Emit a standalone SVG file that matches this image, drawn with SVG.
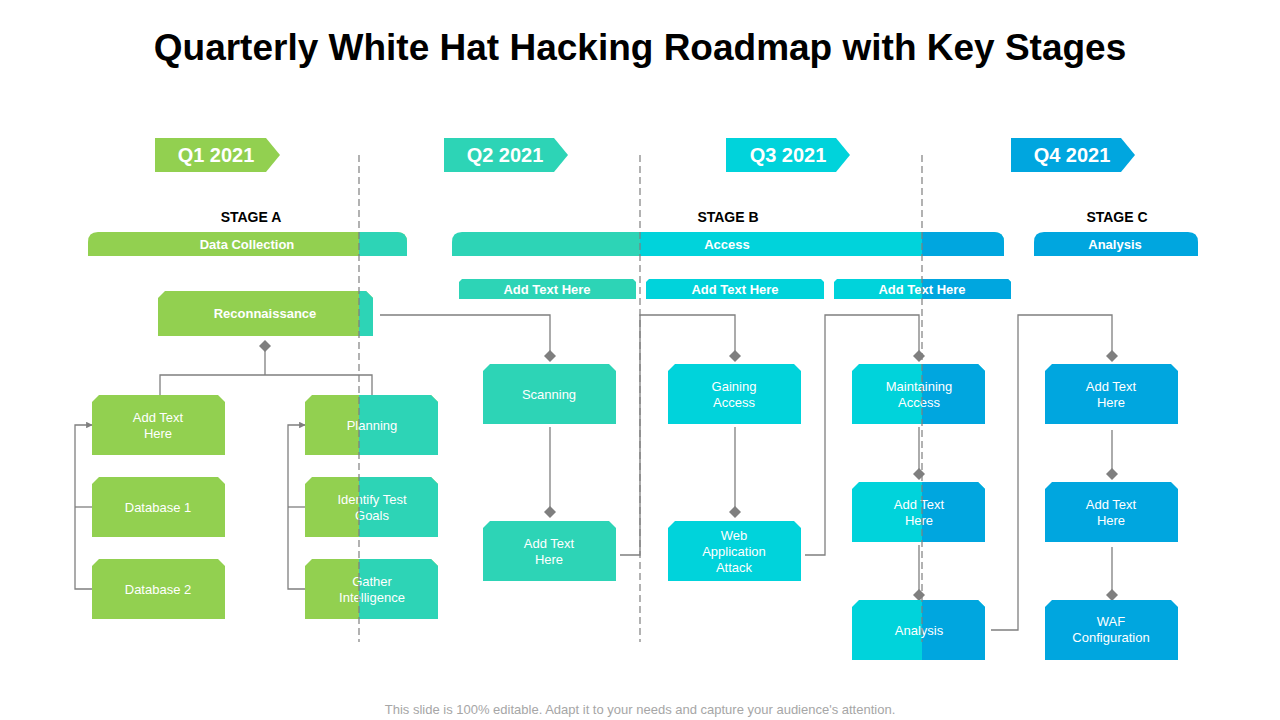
<svg xmlns="http://www.w3.org/2000/svg" width="1280" height="720" viewBox="0 0 1280 720">
<style>
.t{font-family:"Liberation Sans",Arial,sans-serif;}
.nt{font-family:"Liberation Sans",Arial,sans-serif;font-size:13px;fill:#fff;text-anchor:middle;}
.bt{font-family:"Liberation Sans",Arial,sans-serif;font-size:13px;font-weight:bold;fill:#fff;text-anchor:middle;}
.g{fill:#92D050}.tl{fill:#2DD4B6}.cy{fill:#00D3DB}.bl{fill:#00A6DF}
.ln{stroke:#7F7F7F;stroke-width:1.3;fill:none}
.dia{fill:#7F7F7F}
.dash{stroke:#7F7F7F;stroke-width:1.2;stroke-dasharray:7,4}
</style>
<defs>
<clipPath id="c2"><rect x="359" y="0" width="281" height="720"/></clipPath>
<clipPath id="c3"><rect x="640" y="0" width="282" height="720"/></clipPath>
<clipPath id="c4"><rect x="922" y="0" width="358" height="720"/></clipPath>
<marker id="ar" viewBox="0 0 10 10" refX="9" refY="5" markerWidth="5" markerHeight="5" orient="auto"><path d="M0,0 L10,5 L0,10z" fill="#7F7F7F"/></marker>
<path id="dm" d="M0,-6 L6,0 L0,6 L-6,0z"/>
</defs>
<rect width="1280" height="720" fill="#fff"/>
<text class="t" x="640" y="60" font-size="37" font-weight="bold" text-anchor="middle" fill="#000">Quarterly White Hat Hacking Roadmap with Key Stages</text>

<g id="quarters">
<g id="q1"><path class="g" d="M155,138 H266 L280,155 L266,172 H155z"/><text class="t" x="216" y="162" font-size="20" font-weight="bold" fill="#fff" text-anchor="middle">Q1 2021</text></g>
<g id="q2"><path class="tl" d="M444,138 H554 L568,155 L554,172 H444z"/><text class="t" x="505" y="162" font-size="20" font-weight="bold" fill="#fff" text-anchor="middle">Q2 2021</text></g>
<g id="q3"><path class="cy" d="M726,138 H836 L850,155 L836,172 H726z"/><text class="t" x="788" y="162" font-size="20" font-weight="bold" fill="#fff" text-anchor="middle">Q3 2021</text></g>
<g id="q4"><path class="bl" d="M1011,138 H1121 L1135,155 L1121,172 H1011z"/><text class="t" x="1072" y="162" font-size="20" font-weight="bold" fill="#fff" text-anchor="middle">Q4 2021</text></g>
</g>

<g id="stages">
<text class="t" x="251" y="222" font-size="14" font-weight="bold" text-anchor="middle">STAGE A</text>
<text class="t" x="728" y="222" font-size="14" font-weight="bold" text-anchor="middle">STAGE B</text>
<text class="t" x="1117" y="222" font-size="14" font-weight="bold" text-anchor="middle">STAGE C</text>
<g id="stageA"><path class="g" d="M88,256 V242 Q88,232 98,232 H397 Q407,232 407,242 V256z"/><path class="tl" clip-path="url(#c2)" d="M88,256 V242 Q88,232 98,232 H397 Q407,232 407,242 V256z"/><text class="bt" x="247" y="249">Data Collection</text></g>
<g id="stageB"><path class="tl" d="M452,256 V242 Q452,232 462,232 H994 Q1004,232 1004,242 V256z"/><path class="cy" clip-path="url(#c3)" d="M452,256 V242 Q452,232 462,232 H994 Q1004,232 1004,242 V256z"/><path class="bl" clip-path="url(#c4)" d="M452,256 V242 Q452,232 462,232 H994 Q1004,232 1004,242 V256z"/><text class="bt" x="727" y="249">Access</text></g>
<g id="stageC"><path class="bl" d="M1034,256 V242 Q1034,232 1044,232 H1188 Q1198,232 1198,242 V256z"/><text class="bt" x="1115" y="249">Analysis</text></g>
<g id="sb1"><path class="tl" d="M459,299 V282 L462,279 H633 L636,282 V299z"/><text class="bt" x="547" y="294" font-size="12">Add  Text Here</text></g>
<g id="sb2"><path class="cy" d="M646,299 V282 L649,279 H821 L824,282 V299z"/><text class="bt" x="735" y="294" font-size="12">Add  Text Here</text></g>
<g id="sb3"><path class="cy" d="M834,299 V282 L837,279 H1008 L1011,282 V299z"/><path class="bl" clip-path="url(#c4)" d="M834,299 V282 L837,279 H1008 L1011,282 V299z"/><text class="bt" x="922" y="294" font-size="12">Add  Text Here</text></g>
</g>

<g id="connectors">
<line class="ln" x1="265" y1="346" x2="265" y2="375"/>
<path class="ln" d="M160,395 V375 H372 V395"/>
<use href="#dm" class="dia" x="265" y="346"/>
<path class="ln" d="M92,589 H75 V425 H92" marker-end="url(#ar)"/>
<line class="ln" x1="75" y1="507" x2="92" y2="507"/>
<path class="ln" d="M305,589 H288 V425 H305" marker-end="url(#ar)"/>
<line class="ln" x1="288" y1="507" x2="305" y2="507"/>
<path class="ln" d="M380,315 H550 V356"/><use href="#dm" class="dia" x="550" y="356"/>
<path class="ln" d="M550,427 V512"/><use href="#dm" class="dia" x="550" y="512"/>
<path class="ln" d="M620,555 H640 V315 H735 V356"/><use href="#dm" class="dia" x="735" y="356"/>
<path class="ln" d="M735,427 V512"/><use href="#dm" class="dia" x="735" y="512"/>
<path class="ln" d="M805,555 H825 V315 H919 V356"/><use href="#dm" class="dia" x="919" y="356"/>
<path class="ln" d="M919,427 V474"/><use href="#dm" class="dia" x="919" y="474"/>
<path class="ln" d="M919,545 V595"/><use href="#dm" class="dia" x="919" y="595"/>
<path class="ln" d="M991,630 H1018 V315 H1112 V356"/><use href="#dm" class="dia" x="1112" y="356"/>
<path class="ln" d="M1112,430 V474"/><use href="#dm" class="dia" x="1112" y="474"/>
<path class="ln" d="M1112,547 V595"/><use href="#dm" class="dia" x="1112" y="595"/>
</g>

<g id="nodes">
<g id="recon"><path class="g" d="M158,336 V298 L165,291 H366 L373,298 V336z"/><path class="tl" clip-path="url(#c2)" d="M158,336 V298 L165,291 H366 L373,298 V336z"/><text class="bt" x="265" y="318">Reconnaissance</text></g>
<g id="n1"><path class="g" d="M92,455 V402 L99,395 H218 L225,402 V455z"/><text class="nt" x="158" y="422">Add Text</text><text class="nt" x="158" y="438">Here</text></g>
<g id="n2"><path class="g" d="M92,537 V484 L99,477 H218 L225,484 V537z"/><text class="nt" x="158" y="512">Database 1</text></g>
<g id="n3"><path class="g" d="M92,619 V566 L99,559 H218 L225,566 V619z"/><text class="nt" x="158" y="594">Database 2</text></g>
<g id="n4"><path class="g" d="M305,455 V402 L312,395 H431 L438,402 V455z"/><path class="tl" clip-path="url(#c2)" d="M305,455 V402 L312,395 H431 L438,402 V455z"/><text class="nt" x="372" y="430">Planning</text></g>
<g id="n5"><path class="g" d="M305,537 V484 L312,477 H431 L438,484 V537z"/><path class="tl" clip-path="url(#c2)" d="M305,537 V484 L312,477 H431 L438,484 V537z"/><text class="nt" x="372" y="504">Identify Test</text><text class="nt" x="372" y="520">Goals</text></g>
<g id="n6"><path class="g" d="M305,619 V566 L312,559 H431 L438,566 V619z"/><path class="tl" clip-path="url(#c2)" d="M305,619 V566 L312,559 H431 L438,566 V619z"/><text class="nt" x="372" y="586">Gather</text><text class="nt" x="372" y="602">Intelligence</text></g>
<g id="n7"><path class="tl" d="M483,424 V371 L490,364 H609 L616,371 V424z"/><text class="nt" x="549" y="399">Scanning</text></g>
<g id="n8"><path class="tl" d="M483,581 V528 L490,521 H609 L616,528 V581z"/><text class="nt" x="549" y="548">Add Text</text><text class="nt" x="549" y="564">Here</text></g>
<g id="n9"><path class="cy" d="M668,424 V371 L675,364 H794 L801,371 V424z"/><text class="nt" x="734" y="391">Gaining</text><text class="nt" x="734" y="407">Access</text></g>
<g id="n10"><path class="cy" d="M668,581 V528 L675,521 H794 L801,528 V581z"/><text class="nt" x="734" y="540">Web</text><text class="nt" x="734" y="556">Application</text><text class="nt" x="734" y="572">Attack</text></g>
<g id="n11"><path class="cy" d="M852,424 V371 L859,364 H978 L985,371 V424z"/><path class="bl" clip-path="url(#c4)" d="M852,424 V371 L859,364 H978 L985,371 V424z"/><text class="nt" x="919" y="391">Maintaining</text><text class="nt" x="919" y="407">Access</text></g>
<g id="n12"><path class="cy" d="M852,542 V489 L859,482 H978 L985,489 V542z"/><path class="bl" clip-path="url(#c4)" d="M852,542 V489 L859,482 H978 L985,489 V542z"/><text class="nt" x="919" y="509">Add Text</text><text class="nt" x="919" y="525">Here</text></g>
<g id="n13"><path class="cy" d="M852,660 V607 L859,600 H978 L985,607 V660z"/><path class="bl" clip-path="url(#c4)" d="M852,660 V607 L859,600 H978 L985,607 V660z"/><text class="nt" x="919" y="635">Analysis</text></g>
<g id="n14"><path class="bl" d="M1045,424 V371 L1052,364 H1171 L1178,371 V424z"/><text class="nt" x="1111" y="391">Add Text</text><text class="nt" x="1111" y="407">Here</text></g>
<g id="n15"><path class="bl" d="M1045,542 V489 L1052,482 H1171 L1178,489 V542z"/><text class="nt" x="1111" y="509">Add Text</text><text class="nt" x="1111" y="525">Here</text></g>
<g id="n16"><path class="bl" d="M1045,660 V607 L1052,600 H1171 L1178,607 V660z"/><text class="nt" x="1111" y="626">WAF</text><text class="nt" x="1111" y="642">Configuration</text></g>
</g>

<g id="dividers">
<line class="dash" x1="359" y1="155" x2="359" y2="642"/>
<line class="dash" x1="640" y1="155" x2="640" y2="642"/>
<line class="dash" x1="922" y1="155" x2="922" y2="642"/>
</g>

<text class="t" x="640" y="714" font-size="13" fill="#A6A6A6" text-anchor="middle">This slide is 100% editable. Adapt it to your needs and capture your audience's attention.</text>
</svg>
